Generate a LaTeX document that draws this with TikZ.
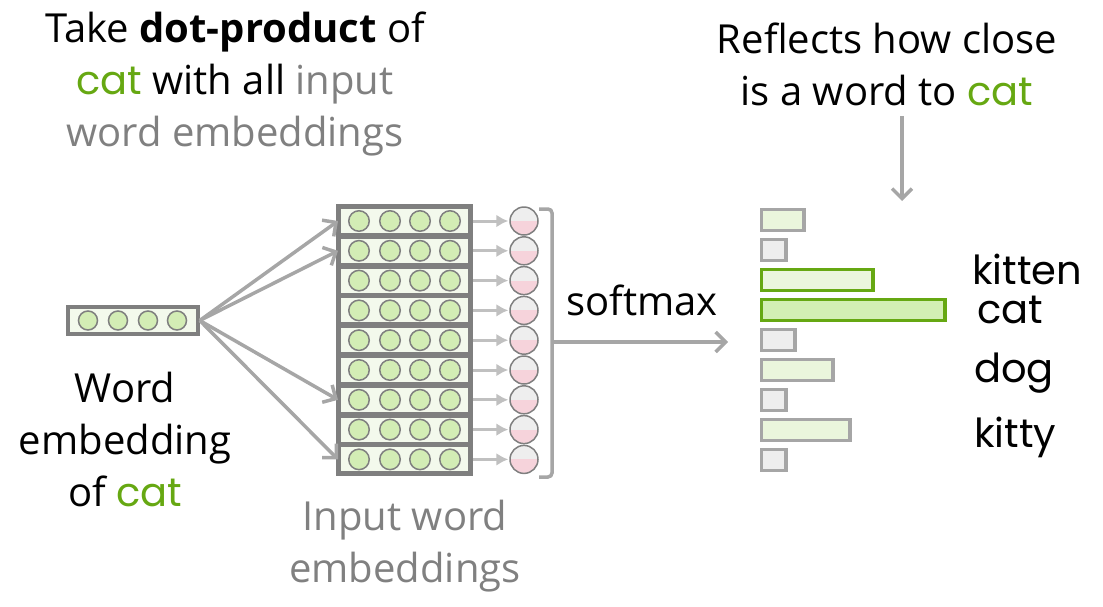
\documentclass[tikz,border=0pt]{standalone}
\usepackage{fontspec}
\setmainfont{Open Sans}
\newfontfamily\comicfont{Poppins}
\usetikzlibrary{positioning,arrows.meta}

\definecolor{boxgray}{HTML}{7F7F7F}
\definecolor{arrgray}{HTML}{A6A6A6}
\definecolor{lightarr}{HTML}{C0C0C0}
\definecolor{catgreen}{HTML}{66A812}
\definecolor{rowfill}{HTML}{F3F9EC}
\definecolor{dotfill}{HTML}{D3EDB5}
\definecolor{barfill}{HTML}{EAF6DC}
\definecolor{catfill}{HTML}{D3EFB4}
\definecolor{greyfill}{HTML}{EEEEEE}
\definecolor{pinkfill}{HTML}{F6D3DB}
\definecolor{textgray}{HTML}{808080}

\newcommand{\catword}{{\comicfont\color{catgreen}cat}}

\begin{document}
\begin{tikzpicture}[
x = 1pt, y = -1pt,
big/.style={
  font=\fontsize{40}{52}\selectfont,
  align=center,
  inner sep=0pt
  },
word/.style={
  font=\comicfont\fontsize{40}{48}\selectfont,
  inner sep=0pt,
  anchor=base west
  },
rowbox/.style={
  draw=boxgray,
  line width=3pt,
  fill=rowfill,
  minimum width=130pt,
  minimum height=27pt,
  inner sep=0pt
  },
dot/.style={
  circle,
  draw=boxgray,
  line width=1.5pt,
  fill=dotfill,
  minimum size=19pt,
  inner sep=0pt
  },
prob/.style={
  circle,
  draw=boxgray,
  line width=1.5pt,
  fill=greyfill,
  minimum size=28pt,
  inner sep=0pt,
  path picture={\fill[pinkfill] (path picture bounding box.west)
    rectangle (path picture bounding box.south east);}
  },
bar/.style={
  line width=3.5pt,
  minimum height=21pt,
  inner sep=0pt,
  anchor=west
  },
arr/.style={
  draw=arrgray,
  line width=3.5pt,
  -{Straight Barb[length=10pt,width=20pt,line width=3.5pt]}
  },
small/.style={
  draw=lightarr,
  line width=3pt,
  -{Latex[length=12pt,width=13pt]}
  }
]
\useasboundingbox (0,0) rectangle (1103,606);

% word embedding of cat
\node[rowbox, line width=3.5pt] (emb) at (133,320.5) {};
\foreach \dx [count=\k] in {88,118,148,177}
  \node[dot] (emb-\k) at (\dx,320.5) {};

% input word embeddings, softmax circles, bars
\foreach \i in {1,...,9}
{
  \node[rowbox] (row\i) at (404.5,{221+29.8*(\i-1)}) {};
  \foreach \dx [count=\k] in {359,390,420,450}
    \node[dot, minimum size=20.5pt] (row\i-\k) at (\dx,{221+29.8*(\i-1)}) {};
  \node[prob] (prob\i) at (524,{221+29.8*(\i-1)}) {};
  \draw[small, shorten <=2pt, shorten >=1pt] (row\i) -- (prob\i);
}
\draw[boxgray, line width=3.5pt] (row1.north west) rectangle (row9.south east);

\foreach \i in {1,2,7,9}
  \draw[arr] (emb.east) -- (row\i.west);

% bracket and softmax
\draw[arrgray, line width=3.5pt, rounded corners=4pt]
  (539,209) -- (552,209) -- (552,477) -- (539,477);
\coordinate (smin) at (552,342);
\coordinate (smout) at (728,342);
\draw[arr] (smin) -- (smout);
\node[big, anchor=base] (softmax) at (642,315) {softmax};

% bars
\foreach \w/\c/\f [count=\i] in {42.5/arrgray/barfill, 24.5/arrgray/greyfill,
    111.5/catgreen/barfill, 183.5/catgreen/catfill, 33.5/arrgray/greyfill,
    71.5/arrgray/barfill, 24.5/arrgray/greyfill, 88.5/arrgray/barfill,
    24.5/arrgray/greyfill}
  \node[bar, draw=\c, fill=\f, minimum width=\w pt] (bar\i)
    at (759.75,{220+30*(\i-1)}) {};

\node[word] (kitten) at (972,284) {kitten};
\node[word] (cat) at (977,323) {cat};
\node[word] (dog) at (974,382) {dog};
\node[word] (kitty) at (974,447) {kitty};

% texts
\node[big, anchor=north] (take) at (235,11.5)
  {Take \textbf{dot-product} of\\
   \catword{} with all \textcolor{textgray}{input}\\
   \textcolor{textgray}{word embeddings}};
\node[big, anchor=north] (refl) at (887,22.5)
  {Reflects how close\\ is a word to \catword};
\coordinate (bartop) at (902,201);
\draw[arr] (refl.south -| bartop) ++(0,10) coordinate (reflout) (reflout) -- (bartop);
\node[big, anchor=north] (embtext) at (125,371.5)
  {Word\\ embedding\\ of \catword};
\node[big, anchor=north, text=textgray] (inputs) at (405,500)
  {Input word\\ embeddings};
\end{tikzpicture}
\end{document}
